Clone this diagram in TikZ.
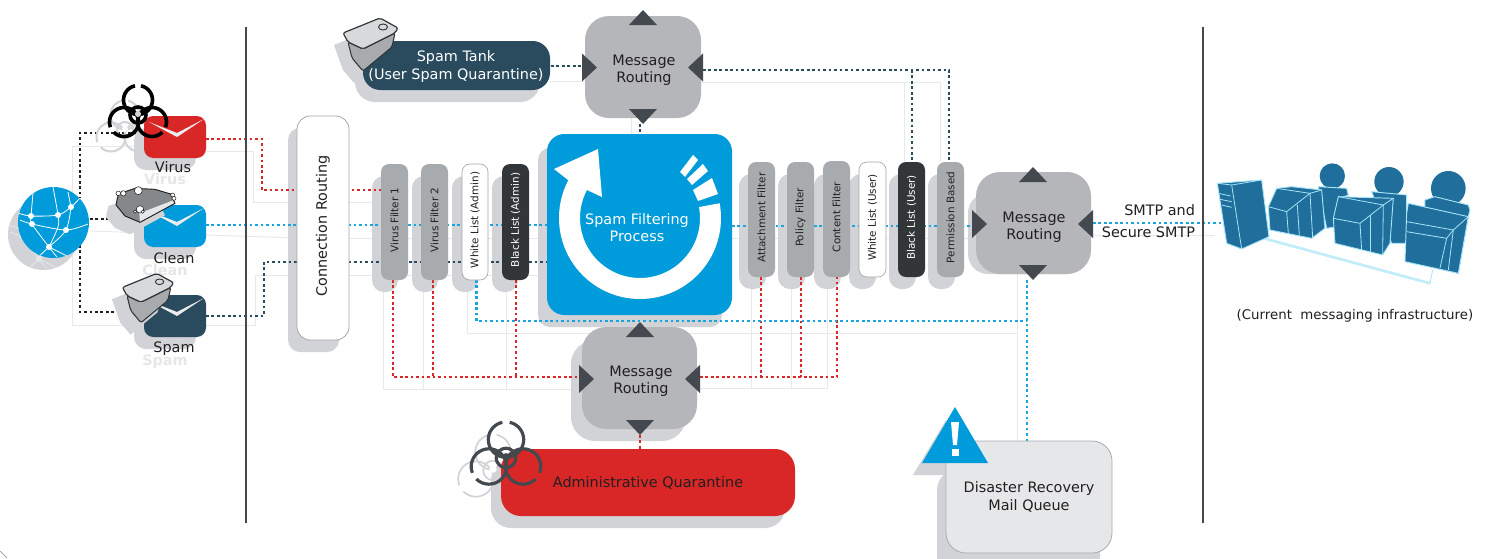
\documentclass[tikz,border=0pt]{standalone}
\usepackage{fontspec}
\setmainfont{DejaVu Sans}
\definecolor{cRed}{HTML}{D92727}
\definecolor{cBlue}{HTML}{009BDB}
\definecolor{cDot}{HTML}{1BA3E0}
\definecolor{cNavy}{HTML}{2A4A5E}
\definecolor{cShadow}{HTML}{D1D3D7}
\definecolor{cWire}{HTML}{E6E7E8}
\definecolor{cRoute}{HTML}{B5B6B9}
\definecolor{cTri}{HTML}{43494E}
\definecolor{cFilter}{HTML}{A8ABAD}
\definecolor{cDark}{HTML}{323638}
\definecolor{cInk}{HTML}{231F20}
\definecolor{cInfra}{HTML}{1F6E9C}
\definecolor{cEdge}{HTML}{A6E4F7}
\definecolor{cRock}{HTML}{85888B}
\tikzset{
  wire/.style={draw=cWire!90!white,line width=0.7pt},
  dotbase/.style={line width=2.05pt,dash pattern=on 2pt off 2.1pt},
  reddot/.style={dotbase,draw=cRed},
  bluedot/.style={dotbase,draw=cDot},
  navydot/.style={dotbase,draw=cNavy},
  blackdot/.style={dotbase,draw=cInk},
  shade/.style={fill=cShadow,rounded corners=9pt},
  base/.style={inner sep=0pt,outer sep=0pt,align=center,text=cInk,font=\fontsize{10.8}{13}\selectfont},
  route/.style={base,fill=cRoute,rounded corners=18pt},
  env/.style={base,rounded corners=7pt},
  vf/.style={base,rotate=90,rounded corners=6pt},
  vftext/.style={base,rotate=90,font=\fontsize{7.8}{10}\selectfont},
  tri/.style={fill=cTri},
  lbl/.style={base,anchor=base},
  ghost/.style={base,anchor=base,text=cWire,font=\fontsize{10.8}{13}\selectfont\bfseries},
  infra/.style={fill=cInfra,draw=cEdge,line width=0.7pt,line join=round},
  iline/.style={draw=cEdge,line width=0.6pt}
}
\newcommand\rbox[7]{%
  \pgfmathsetlengthmacro\rw{(#4-#2)*0.75pt}%
  \pgfmathsetlengthmacro\rh{(#5-#3)*0.75pt}%
  \node[#6,minimum width=\rw,minimum height=\rh] (#1) at ({(#2+#4)/2},{(#3+#5)/2}) {#7};}
\newcommand\vfilter[8]{%
  \pgfmathsetlengthmacro\rw{(#5-#3)*0.75pt}%
  \pgfmathsetlengthmacro\rh{(#4-#2)*0.75pt}%
  \node[vf,#6,minimum width=\rw,minimum height=\rh] (#1) at ({(#2+#4)/2},{(#3+#5)/2}) {};
  \node[vftext,text=#7] (#1T) at ({(#2+#4)/2},{(#3+#5)/2-2}) {#8};}
\newcommand\shad[4]{\fill[shade] (#1,#2) rectangle (#3,#4);}
\newcommand\arrowsNSWE[6]{%
  \fill[tri] (#1,{#2-15}) -- ({#1+14},#2) -- ({#1-14},#2) -- cycle;
  \fill[tri] (#1,{#3+15}) -- ({#1+14},#3) -- ({#1-14},#3) -- cycle;
  \fill[tri] ({#4+15},#6) -- (#4,{#6-14}) -- (#4,{#6+14}) -- cycle;
  \fill[tri] ({#5-15},#6) -- (#5,{#6-14}) -- (#5,{#6+14}) -- cycle;}
\newcommand\biohaz[6]{\begin{scope}[shift={(#1,#2)},scale=#3]
  \draw[draw=#4,line width=#5] plot[smooth,domain=-78:258,samples=40,variable=\t] ({14.5*cos(\t)},{-13+14.5*sin(\t)});
  \draw[draw=#4,line width=#5] plot[smooth,domain=159:495,samples=40,variable=\t] ({-14+14.5*cos(\t)},{9+14.5*sin(\t)});
  \draw[draw=#4,line width=#5] plot[smooth,domain=45:381,samples=40,variable=\t] ({14+14.5*cos(\t)},{9+14.5*sin(\t)});
  \draw[draw=#4,line width=#5] (0,2) circle[radius=8];
  \fill[#6] (0,1) circle[radius=3];
\end{scope}}
\newcommand\tank[5]{\begin{scope}[shift={(#1,#2)},scale=#3]
  \draw[fill=#5,draw=#4,line width=0.8pt,line join=round,rounded corners=1.5pt] (-22,4) -- (-7,11) -- (25,-5) -- (22,9) -- (-7,33) -- (-18,20) -- cycle;
  \draw[fill=#5!45!white,draw=#4,line width=0.9pt,line join=round,rounded corners=1.5pt] (-27,-5) -- (10,-20) -- (28,-10) -- (25,-5) -- (-7,11) -- (-22,4) -- cycle;
  \draw[draw=#4,line width=0.7pt] (13,-11) ellipse[x radius=4.5,y radius=3];
\end{scope}}
\newcommand\tankshadow[3]{\begin{scope}[shift={(#1,#2)},scale=#3]
  \fill[cShadow,line join=round] (-27,-5) -- (10,-20) -- (28,-10) -- (22,9) -- (-7,33) -- (-18,20) -- cycle;
\end{scope}}
\newcommand\chevron[2]{\fill[#2!85!gray] ([shift={(5,6)}]#1.north west) -- ([shift={(33,17)}]#1.north west) -- ([shift={(60,3)}]#1.north west) -- ([shift={(33,21)}]#1.north west) -- cycle;}
\newcommand\globeart[4]{\begin{scope}[shift={(#1,#2)}]
  \fill[#3] (53.5,222.5) circle[radius=35.5];
  \begin{scope}
  \clip (53.5,222.5) circle[radius=35.5];
  \draw[draw=#4,line width=0.6pt] plot[smooth] coordinates {(18,213) (31,216) (58,215) (71,207) (80,198)};
  \draw[draw=#4,line width=0.6pt] plot[smooth] coordinates {(20,220) (32,224) (66,230) (88,224)};
  \draw[draw=#4,line width=0.6pt] plot[smooth] coordinates {(31,216) (32,224) (49,247) (57,257)};
  \draw[draw=#4,line width=0.6pt] plot[smooth] coordinates {(53,187) (58,215) (58,227) (49,247)};
  \draw[draw=#4,line width=0.6pt] plot[smooth] coordinates {(71,207) (66,230) (49,247) (38,257)};
  \draw[draw=#4,line width=0.6pt] (49,247) -- (67,256);
  \draw[draw=#4,line width=0.6pt] (33,193) -- (31,216);
  \draw[draw=#4,line width=0.6pt] (68,192) -- (71,207);
  \foreach \a/\b in {31/216,58/215,71/207,32/224,66/230,49/247} \fill[#4] (\a,\b) circle[radius=3];
  \end{scope}
\end{scope}}
\newcommand\rockpoly{(48,75) -- (55,42) -- (105,25) -- (165,28) -- (212,42) -- (225,70) -- (120,127) -- (75,108) -- cycle}
\begin{document}
\begin{tikzpicture}[x=0.75pt,y=-0.75pt]
\useasboundingbox (0,0) rectangle (1489,558);
\fill[white] (0,0) rectangle (1489,558);
\clip (0,0) rectangle (1489,558);
\draw[draw=cFilter,line width=0.6pt] (0,551) -- (7,558);

% ---------- named route points
\coordinate (wA) at (72,146); \coordinate (wB) at (72,325); \coordinate (wC) at (255,325);
\coordinate (wD) at (255,275); \coordinate (wE) at (297,275); \coordinate (wF) at (253,151);
\coordinate (wG) at (253,202); \coordinate (wH) at (297,202); \coordinate (wI) at (90,231);
\coordinate (wJ) at (297,238); \coordinate (wK) at (144,146); \coordinate (wL) at (144,151);
\coordinate (globeC) at (53.5,222.5);
\coordinate (blkTop) at (80,133); \coordinate (blkTopEnd) at (136,133); \coordinate (blkTopUp) at (80,198);
\coordinate (blkMidA) at (90,219); \coordinate (blkMidB) at (125,219);
\coordinate (blkLowDown) at (80,245); \coordinate (blkLow) at (80,312); \coordinate (blkLowEnd) at (130,312);
\coordinate (rV0) at (206,139); \coordinate (rV1) at (262,139); \coordinate (rV2) at (262,190); \coordinate (rV3) at (381,190);
\coordinate (bC0) at (206,225); \coordinate (bC1) at (547,225);
\coordinate (nS0) at (206,316); \coordinate (nS1) at (264,316); \coordinate (nS2) at (264,262); \coordinate (nS3) at (547,262);
\coordinate (bP0) at (732,226); \coordinate (bP1) at (972,226);
\coordinate (bR0) at (1093,223); \coordinate (bR1) at (1222,223);
\coordinate (bW0) at (476.5,280); \coordinate (bW1) at (476.5,321); \coordinate (bW2) at (1027,321);
\coordinate (bD0) at (1027,280); \coordinate (bD1) at (1027,441);
\coordinate (rLine1) at (393,377); \coordinate (rLine2) at (433,377); \coordinate (rLine3) at (516,377); \coordinate (rEndL) at (579,377);
\coordinate (rTop1) at (393,280); \coordinate (rTop2) at (433,280); \coordinate (rTop3) at (516,280);
\coordinate (rRight0) at (700,377); \coordinate (rA) at (761,377); \coordinate (rB) at (801,377); \coordinate (rC) at (837,377);
\coordinate (rAt) at (761,277); \coordinate (rBt) at (801,277); \coordinate (rCt) at (837,277);
\coordinate (rQ0) at (640,435); \coordinate (rQ1) at (640,449);
\coordinate (nT0) at (551,66); \coordinate (nT1) at (582,66);
\coordinate (nU0) at (703,70); \coordinate (nU1) at (949,70); \coordinate (nU2) at (949,162);
\coordinate (nV0) at (912,70); \coordinate (nV1) at (912,162);
\coordinate (nW0) at (640,124); \coordinate (nW1) at (640,134);

% ---------- pale wires
\draw[wire] (wK) -- (wA) -- (wB) -- (wC) -- (wD) -- (wE);
\draw[wire] (wL) -- (wF) -- (wG) -- (wH);
\draw[wire] (wI) -- (wJ);
\draw[wire] (349,238) -- (975,238);
\draw[wire] (349,202) -- (381,202);
\draw[wire] (349,275) -- (547,275);
\draw[wire] (383,280) -- (383,389) -- (582,389);
\draw[wire] (423,280) -- (423,389);
\draw[wire] (506,280) -- (506,389);
\draw[wire] (467,280) -- (467,333) -- (1017,333);
\draw[wire] (1017,274) -- (1017,441);
\draw[wire] (751,277) -- (751,388);
\draw[wire] (791,277) -- (791,388);
\draw[wire] (827,277) -- (827,388) -- (697,388);
\draw[wire] (550,81) -- (585,81);
\draw[wire] (631,118) -- (631,134);
\draw[wire] (700,82) -- (940,82) -- (940,162);
\draw[wire] (904,82) -- (904,162);
\draw[wire] (1091,235) -- (1215,235);

% ---------- divider lines
\coordinate (divLT) at (246,27); \coordinate (divLB) at (246,523);
\coordinate (divRT) at (1203,27); \coordinate (divRB) at (1203,523);

% ---------- shadows
\globeart{-10}{12}{cShadow}{cWire}
\shad{134}{128}{196}{170}
\shad{134}{217}{196}{259}
\shad{134}{307}{196}{349}
\shad{288}{128}{339}{352}
\foreach \a in {372,412,452,492} {\shad{\a}{176}{{\a+26}}{292}}
\shad{538}{148}{722}{327}
\foreach \a in {739,778,814,849,889,928} {\shad{\a}{174}{{\a+27}}{289}}
\fill[cShadow,rounded corners=15pt] (968,193) rectangle (1085,274);
\fill[cShadow,rounded corners=18pt] (571,340) rectangle (686,441);
\fill[cShadow,rounded corners=15pt] (355,52) rectangle (540,102);
\fill[cShadow,rounded corners=15pt] (491,461) rectangle (785,528);
\fill[cShadow,rounded corners=15pt] (937,470) rectangle (1100,580);
\fill[cShadow] (913,475) -- (946,420) -- (980,475) -- cycle;
\node[ghost] (vghost) at (165,184) {Virus};
\node[ghost] (cghost) at (165,275) {Clean};
\node[ghost] (sghost) at (165,365) {Spam};

% ---------- dotted connectors
\draw[blackdot] (blkTopEnd) -- (blkTop) -- (blkTopUp);
\draw[blackdot] (blkMidA) -- (blkMidB);
\draw[blackdot] (blkLowDown) -- (blkLow) -- (blkLowEnd);
\draw[reddot] (rV0) -- (rV1) -- (rV2) -- (rV3);
\draw[bluedot] (bC0) -- (bC1);
\draw[navydot] (nS0) -- (nS1) -- (nS2) -- (nS3);
\draw[bluedot] (bP0) -- (bP1);
\draw[bluedot] (bR0) -- (bR1);
\draw[reddot] (rTop1) -- (rLine1) -- (rEndL);
\draw[reddot] (rTop2) -- (rLine2);
\draw[reddot] (rTop3) -- (rLine3);
\draw[reddot] (rRight0) -- (rC) -- (rCt);
\draw[reddot] (rAt) -- (rA);
\draw[reddot] (rBt) -- (rB);
\draw[bluedot] (bW0) -- (bW1) -- (bW2);
\draw[bluedot] (bD0) -- (bD1);
\draw[reddot] (rQ0) -- (rQ1);
\draw[navydot] (nT0) -- (nT1);
\draw[navydot] (nU0) -- (nU1) -- (nU2);
\draw[navydot] (nV0) -- (nV1);
\draw[navydot] (nW0) -- (nW1);

% ---------- dividers
\draw[draw=cTri,line width=1.5pt] (divLT) -- (divLB);
\draw[draw=cTri,line width=1.5pt] (divRT) -- (divRB);

% ---------- globe
\globeart{0}{0}{cBlue}{white}

% ---------- envelopes
\biohaz{125}{128}{1}{cShadow}{1.5pt}{white}
\rbox{virus}{144}{116}{206}{158}{env,fill=cRed}{}
\rbox{clean}{144}{205}{206}{247}{env,fill=cBlue}{}
\rbox{spam}{144}{295}{206}{337}{env,fill=cNavy}{}
\chevron{virus}{white}
\chevron{clean}{white}
\chevron{spam}{white}
\node[lbl] (vlabel) at (173,172) {Virus};
\node[lbl] (clabel) at (174,263) {Clean};
\node[lbl] (slabel) at (174,352) {Spam};
\biohaz{138}{113}{1}{black}{2.7pt}{cShadow}

\begin{scope}[shift={(90,192)},scale=0.3333]
  \fill[cShadow] \rockpoly;
\end{scope}
\begin{scope}[shift={(100,180)},scale=0.3333]
  \fill[cRock] \rockpoly;
  \fill[cWire] (118,100) -- (222,60) -- (225,70) -- (120,127) -- cycle;
  \draw[draw=cInk,line width=0.7pt,line join=round] \rockpoly;
  \foreach \a/\b/\r in {55/40/7,70/40/8,115/32/12,120/88/11,218/45/6,222/55/6,105/95/5,128/95/5}
    \draw[fill=white,draw=cInk,line width=0.4pt] (\a,\b) circle[radius=\r];
\end{scope}

\tankshadow{137}{304}{0.93}
\tank{147.5}{292}{0.93}{cDark}{cFilter}

% ---------- connection routing
\rbox{conn}{297}{116}{349}{340}{base,fill=white,draw=gray!70,line width=0.6pt,rounded corners=10pt}{}
\node[base,rotate=90] (connT) at (323,226) {Connection Routing};

% ---------- filters
\vfilter{vf1}{381}{164}{408}{280}{fill=cFilter}{cInk}{Virus Filter 1}
\vfilter{vf2}{421}{164}{448}{280}{fill=cFilter}{cInk}{Virus Filter 2}
\vfilter{wla}{462}{164}{488}{280}{fill=white,draw=gray!70,line width=0.5pt}{cInk}{White List (Admin)}
\vfilter{bla}{502}{164}{529}{280}{fill=cDark}{white}{Black List (Admin)}
\vfilter{att}{748}{162}{775}{277}{fill=cFilter}{cInk}{Attachment Filter}
\vfilter{pol}{787}{162}{814}{277}{fill=cFilter}{cInk}{Policy Filter}
\vfilter{con}{823}{161}{850}{277}{fill=cFilter}{cInk}{Content Filter}
\vfilter{wlu}{859}{162}{886}{277}{fill=white,draw=gray!70,line width=0.5pt}{cInk}{White List (User)}
\vfilter{blu}{898}{162}{925}{277}{fill=cDark}{white}{Black List (User)}
\vfilter{per}{937}{162}{964}{277}{fill=cFilter}{cInk}{Permission Based}

% ---------- spam filtering process
\rbox{proc}{547}{134}{732}{315}{base,fill=cBlue,rounded corners=13pt,text=white}{}
\fill[white] plot[smooth,domain=-10.5:207.8,samples=60,variable=\t] ({640+81*cos(\t)},{218+81*sin(\t)})
  -- (554,169) -- (598,149) -- (602,197) -- (587,190)
  -- plot[smooth,domain=207.8:-10.5,samples=60,variable=\t] ({640+60*cos(\t)},{218+60*sin(\t)}) -- cycle;
\fill[white] (693,155) -- (698,160) -- (685,177) -- (680,172) -- cycle;
\fill[white] (703,164) -- (708,171) -- (692,185) -- (687,179) -- cycle;
\fill[white] (712,178) -- (718,194) -- (698,201) -- (693,190) -- cycle;
\node[base,text=white] (procT) at (637,227.5) {Spam Filtering\\Process};

% ---------- message routing boxes
\rbox{mrTop}{585}{16}{701}{118}{route}{}
\node[base] (mrTopT) at (644,70) {Message\\Routing};
\arrowsNSWE{643}{25}{109}{582}{703}{67.5}
\rbox{mrBot}{582}{327}{697}{429}{route}{}
\node[base] (mrBotT) at (641,381) {Message\\Routing};
\arrowsNSWE{640}{337}{420}{579}{700}{379}
\rbox{mrRight}{976}{172}{1091}{274}{route}{}
\node[base] (mrRightT) at (1034,227) {Message\\Routing};
\arrowsNSWE{1033}{182}{265}{972}{1093}{224}

% ---------- spam tank
\tankshadow{361}{50}{1}
\rbox{tankBox}{363}{41}{550}{90}{route,fill=cNavy,rounded corners=13pt}{}
\node[base,text=white] (tankT) at (456,66.5) {Spam Tank\\(User Spam Quarantine)};
\tank{370}{38}{1}{cDark}{cFilter}

% ---------- admin quarantine
\biohaz{493}{468}{1.22}{cShadow}{1.3pt}{white}
\rbox{admin}{501}{449}{795}{516}{base,fill=cRed,rounded corners=15pt}{Administrative Quarantine}
\biohaz{506}{455.5}{1.22}{cTri}{2.4pt}{cTri}

% ---------- disaster recovery
\rbox{dr}{946}{441}{1112}{553}{base,fill=cWire,draw=cFilter,line width=0.6pt,rounded corners=15pt}{Disaster Recovery\\Mail Queue}
\fill[cBlue] (955,407) -- (988,463) -- (922,463) -- cycle;
\fill[white] (951,422) -- (959,422) -- (957,445) -- (953,445) -- cycle;
\fill[white] (951.5,449) rectangle (958.5,456);

% ---------- SMTP label
\node[base,align=right,anchor=base east] (smtp1) at (1195,215) {SMTP and};
\node[base,align=right,anchor=base east] (smtp2) at (1195,237) {Secure SMTP};

% ---------- infrastructure
\begin{scope}[shift={(1190,150)},scale=0.3333]
  \draw[draw=cEdge!70!white,line width=2pt] (195,258) -- (720,400);
  \draw[iline] (720,400) -- (728,360);
  \fill[cInfra] (427,78) circle[radius=38];
  \fill[cInfra] (597,95) circle[radius=44];
  \fill[cInfra] (775,115) circle[radius=52];
  \draw[infra] (385,110) -- (470,115) -- (475,135) -- (450,145) -- (440,230) -- (410,235) -- cycle;
  \draw[infra] (545,125) -- (650,135) -- (650,280) -- (605,280) -- cycle;
  \draw[infra] (705,150) -- (735,140) -- (835,165) -- (840,180) -- (835,200) -- (805,370) -- (700,340) -- cycle;
  \draw[infra] (82,100) -- (215,90) -- (237,260) -- (155,297) -- (110,280) -- cycle;
  \draw[iline] (82,100) -- (125,105) -- (215,90);
  \draw[iline] (125,105) -- (155,297);
  \draw[iline] (85,130) -- (122,138);
  \draw[iline] (90,148) -- (125,155);
  \draw[iline] (95,165) -- (125,172);
  \draw[infra] (235,170) -- (260,115) -- (305,110) -- (395,120) -- (405,235) -- (365,265) -- (240,240) -- cycle;
  \draw[iline] (260,115) -- (360,130) -- (290,185) -- (235,170);
  \draw[iline] (290,185) -- (295,250);
  \draw[iline] (360,130) -- (368,262);
  \draw[iline] (322,165) -- (328,255);
  \draw[iline] (360,130) -- (395,120);
  \draw[infra] (430,205) -- (445,140) -- (610,145) -- (600,280) -- (578,315) -- (435,280) -- cycle;
  \draw[iline] (445,140) -- (580,165) -- (510,220) -- (430,205);
  \draw[iline] (510,220) -- (515,300);
  \draw[iline] (580,165) -- (578,315);
  \draw[iline] (540,195) -- (540,305);
  \draw[iline] (610,145) -- (580,165);
  \draw[infra] (650,190) -- (655,160) -- (835,200) -- (805,370) -- (645,335) -- cycle;
  \draw[iline] (650,215) -- (790,240) -- (835,200);
  \draw[iline] (650,245) -- (770,265) -- (790,240);
  \draw[iline] (770,265) -- (750,355);
  \draw[iline] (790,240) -- (775,360);
\end{scope}
\node[base,font=\fontsize{10}{12}\selectfont] (cap) at (1355,316) {(Current\ \ messaging infrastructure)};
\end{tikzpicture}
\end{document}
